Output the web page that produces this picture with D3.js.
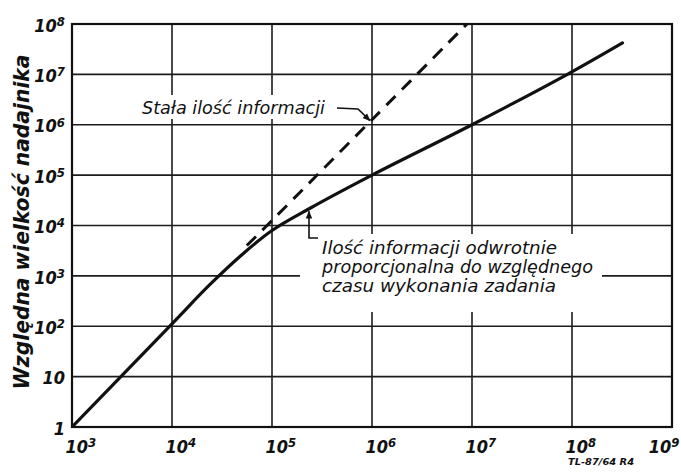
<!DOCTYPE html>
<html lang="pl">
<head>
<meta charset="utf-8">
<title>wielkosc nadajnika</title>
<script src="https://cdn.jsdelivr.net/npm/d3@7"></script>
<style>
  body { margin: 0; background: #fff; }
  svg text { font-family: "DejaVu Sans Condensed", "Liberation Sans", sans-serif; font-style: italic; fill: #111; }
  .tick text { font-weight: bold; font-size: 18px; }
  .axis path, .axis line { display: none; }
  .grid line { stroke: #1c1c1c; stroke-width: 1.6px; }
  .frame { fill: none; stroke: #111; stroke-width: 2.2px; }
  .solid { fill: none; stroke: #111; stroke-width: 3.2px; stroke-linecap: round; }
  .dashed { fill: none; stroke: #111; stroke-width: 3px; stroke-dasharray: 13 9; }
  .note { font-size: 17px; }
  .leader { fill: none; stroke: #111; stroke-width: 1.6px; }
</style>
</head>
<body>
<script>
var w = 681, h = 473;
var margin = {left: 72, right: 9, top: 24, bottom: 46};

// tick exponents
var xExp = [3, 4, 5, 6, 7, 8, 9];
var yExp = [0, 1, 2, 3, 4, 5, 6, 7, 8];

// solid curve: ilosc informacji odwrotnie proporcjonalna do czasu
var solidX = [1e3, 1e4, 2.4e4, 5e4, 1e5, 2.4e5, 1e6, 1e7, 9e7, 3.2e8];
var solidY = [1, 112, 676, 2630, 7950, 2.2e4, 1e5, 1e6, 1e7, 4.2e7];

// dashed curve: stala ilosc informacji
var dashX = [5.6e4, 1e5, 1e6, 1e7];
var dashY = [4e3, 1.26e4, 1.26e6, 1.26e8];

var x = d3.scaleLog().domain([1e3, 1e9]).range([margin.left, w - margin.right]);
var y = d3.scaleLog().domain([1, 1e8]).range([h - margin.bottom, margin.top]);

var svg = d3.select("body").append("svg")
  .attr("width", w)
  .attr("height", h);

svg.append("defs").append("clipPath").attr("id", "plot")
  .append("rect")
  .attr("x", x.range()[0]).attr("y", y.range()[1])
  .attr("width", x.range()[1] - x.range()[0])
  .attr("height", y.range()[0] - y.range()[1]);

svg.append("marker")
  .attr("id", "arr")
  .attr("viewBox", "0 0 10 10")
  .attr("refX", 9).attr("refY", 5)
  .attr("markerWidth", 7).attr("markerHeight", 5)
  .attr("orient", "auto")
  .append("path").attr("d", "M0,1 L10,5 L0,9 Z").attr("fill", "#111");

// grid
var grid = svg.append("g").attr("class", "grid");
grid.selectAll(".vx").data(xExp).enter().append("line")
  .attr("x1", function(d) { return x(Math.pow(10, d)); })
  .attr("x2", function(d) { return x(Math.pow(10, d)); })
  .attr("y1", y.range()[0]).attr("y2", y.range()[1]);
grid.selectAll(".hy").data(yExp).enter().append("line")
  .attr("y1", function(d) { return y(Math.pow(10, d)); })
  .attr("y2", function(d) { return y(Math.pow(10, d)); })
  .attr("x1", x.range()[0]).attr("x2", x.range()[1]);

svg.append("rect").attr("class", "frame")
  .attr("x", x.range()[0]).attr("y", y.range()[1])
  .attr("width", x.range()[1] - x.range()[0])
  .attr("height", y.range()[0] - y.range()[1]);

// axes with power labels
function powLabel(sel, e) {
  sel.text(null);
  if (e === 0) { sel.text("1"); return; }
  sel.append("tspan").text("10");
  if (e > 1) sel.append("tspan").attr("dy", "-0.45em").attr("font-size", "13px").text(e);
}

var xAxis = svg.append("g").attr("class", "axis")
  .attr("transform", "translate(0," + y.range()[0] + ")")
  .call(d3.axisBottom(x).tickValues(xExp.map(function(e) { return Math.pow(10, e); })).tickSize(0).tickPadding(9));
xAxis.selectAll(".tick text")
  .attr("text-anchor", function(d, i) { return i === xExp.length - 1 ? "end" : "start"; })
  .attr("dx", function(d, i) { return i === xExp.length - 1 ? "7px" : "-7px"; })
  .attr("dy", "0.95em")
  .each(function(d) { powLabel(d3.select(this), Math.round(Math.log10(d))); });

var yAxis = svg.append("g").attr("class", "axis")
  .attr("transform", "translate(" + x.range()[0] + ",0)")
  .call(d3.axisLeft(y).tickValues(yExp.map(function(e) { return Math.pow(10, e); })).tickSize(0).tickPadding(7));
yAxis.selectAll(".tick text")
  .attr("dy", "0.4em")
  .each(function(d) { powLabel(d3.select(this), Math.round(Math.log10(d))); });

// curves
var line = d3.line()
  .x(function(d) { return x(d[0]); })
  .y(function(d) { return y(d[1]); })
  .curve(d3.curveCatmullRom.alpha(0.5));

var plot = svg.append("g").attr("clip-path", "url(#plot)");
plot.append("path").attr("class", "dashed")
  .attr("d", line(d3.zip(dashX, dashY)));
plot.append("path").attr("class", "solid")
  .attr("d", line(d3.zip(solidX, solidY)));

// label: stala ilosc informacji
svg.append("rect").attr("x", 138).attr("y", 95).attr("width", 192).attr("height", 24).attr("fill", "#fff");
svg.append("text").attr("class", "note")
  .attr("x", 142).attr("y", 114)
  .attr("textLength", 183).attr("lengthAdjust", "spacingAndGlyphs")
  .text("Stała ilość informacji");
svg.append("path").attr("class", "leader")
  .attr("marker-end", "url(#arr)")
  .attr("d", "M337,108 L358,109 L" + (x(1e6) - 2) + "," + (y(1.26e6) + 1));

// label: ilosc informacji odwrotnie proporcjonalna
svg.append("rect").attr("x", 300).attr("y", 234).attr("width", 302).attr("height", 78).attr("fill", "#fff");
var notes = [
  {t: "Ilość informacji odwrotnie", len: 235},
  {t: "proporcjonalna do względnego", len: 271},
  {t: "czasu wykonania zadania", len: 234}
];
svg.selectAll(".n2").data(notes).enter().append("text").attr("class", "note")
  .attr("x", 322)
  .attr("y", function(d, i) { return 254 + i * 19; })
  .attr("textLength", function(d) { return d.len; })
  .attr("lengthAdjust", "spacingAndGlyphs")
  .text(function(d) { return d.t; });
svg.append("path").attr("class", "leader")
  .attr("marker-end", "url(#arr)")
  .attr("d", "M318,238 L309,238 L309," + (y(2.2e4) + 3));

// y title
svg.append("text")
  .attr("transform", "translate(29," + 222 + ") rotate(-90)")
  .attr("text-anchor", "middle")
  .attr("font-size", "21px")
  .attr("font-weight", "bold")
  .attr("textLength", 335).attr("lengthAdjust", "spacingAndGlyphs")
  .text("Względna wielkość nadajnika");

svg.append("text")
  .attr("x", 568).attr("y", 465)
  .attr("font-size", "8px").attr("font-weight", "bold")
  .attr("textLength", 66).attr("lengthAdjust", "spacingAndGlyphs")
  .text("TL-87/64 R4");
</script>
</body>
</html>
